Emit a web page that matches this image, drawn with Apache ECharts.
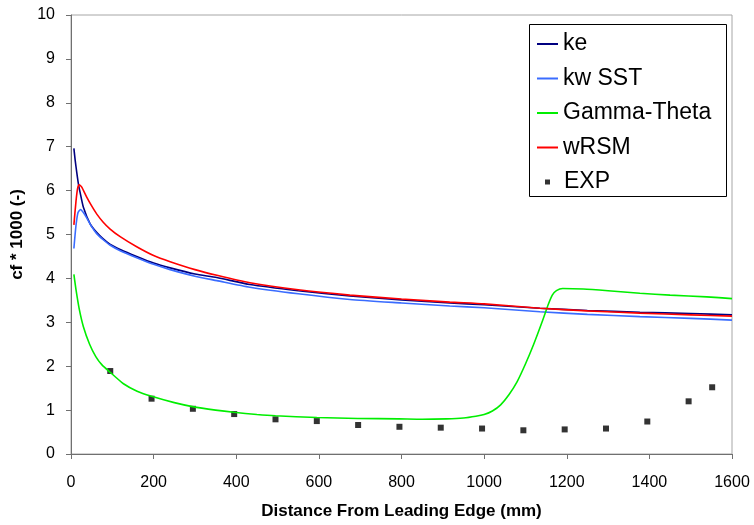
<!DOCTYPE html>
<html>
<head>
<meta charset="utf-8">
<script src="https://cdn.jsdelivr.net/npm/echarts@6/dist/echarts.min.js"></script>
<style>
  html, body { margin: 0; padding: 0; background: #fff; }
  #chart { width: 754px; height: 525px; }
</style>
</head>
<body>
<div id="chart"></div>
<script>
// 数据
var keX = [7, 10, 14, 18, 22, 30, 46, 62, 78, 94, 119, 159, 200, 240, 300, 353, 433, 550, 675, 800, 917, 1000, 1135, 1250, 1377, 1500, 1600];
var keY = [6.96, 6.70, 6.41, 6.15, 5.96, 5.62, 5.25, 5.05, 4.90, 4.78, 4.66, 4.50, 4.35, 4.24, 4.10, 4.02, 3.86, 3.72, 3.60, 3.51, 3.44, 3.40, 3.32, 3.27, 3.23, 3.20, 3.17];

var sstX = [7, 12, 17, 23, 30, 38, 50, 62, 78, 94, 119, 159, 200, 240, 300, 353, 433, 550, 675, 800, 917, 1000, 1135, 1250, 1377, 1500, 1600];
var sstY = [4.68, 5.20, 5.50, 5.57, 5.50, 5.38, 5.18, 5.02, 4.88, 4.76, 4.63, 4.47, 4.32, 4.20, 4.05, 3.95, 3.80, 3.65, 3.52, 3.44, 3.37, 3.33, 3.24, 3.18, 3.13, 3.09, 3.05];

var gtX = [7, 12, 20, 30, 45, 60, 75, 95, 127, 160, 193, 250, 294, 350, 394, 450, 495, 595, 694, 793, 850, 909, 950, 980, 1000, 1020, 1040, 1060, 1080, 1100, 1120, 1140, 1155, 1165, 1175, 1190, 1240, 1300, 1377, 1450, 1539, 1600];
var gtY = [4.09, 3.75, 3.30, 2.90, 2.50, 2.22, 2.03, 1.86, 1.60, 1.43, 1.32, 1.17, 1.08, 1.00, 0.95, 0.90, 0.87, 0.83, 0.81, 0.80, 0.79, 0.80, 0.82, 0.86, 0.90, 0.98, 1.12, 1.35, 1.65, 2.05, 2.50, 3.00, 3.40, 3.62, 3.72, 3.77, 3.76, 3.72, 3.66, 3.62, 3.58, 3.54];

var rsmX = [7, 12, 16, 20, 26, 38, 50, 62, 78, 94, 119, 159, 200, 240, 300, 353, 433, 550, 675, 800, 917, 1000, 1135, 1250, 1377, 1500, 1600];
var rsmY = [5.22, 5.75, 6.05, 6.13, 6.08, 5.85, 5.65, 5.47, 5.28, 5.13, 4.95, 4.72, 4.52, 4.38, 4.20, 4.07, 3.90, 3.74, 3.62, 3.53, 3.46, 3.42, 3.32, 3.26, 3.21, 3.17, 3.14];

var expX = [95, 195, 295, 395, 495, 595, 695, 795, 895, 995, 1095, 1195, 1295, 1395, 1495, 1552];
var expY = [1.89, 1.26, 1.03, 0.91, 0.79, 0.75, 0.66, 0.62, 0.60, 0.58, 0.54, 0.56, 0.58, 0.74, 1.20, 1.52];

var xTicks = [0, 200, 400, 600, 800, 1000, 1200, 1400, 1600];
var yTicks = [0, 1, 2, 3, 4, 5, 6, 7, 8, 9, 10];

function pairs(xs, ys) {
  var out = [];
  for (var i = 0; i < xs.length; i++) {
    out.push([xs[i], ys[i]]);
  }
  return out;
}

var font = 'Arial, "Liberation Sans", sans-serif';
var chart = echarts.init(document.getElementById('chart'), null, { renderer: 'canvas' });

function lineSeries(name, xs, ys, color) {
  return {
    name: name,
    type: 'line',
    data: pairs(xs, ys),
    symbol: 'none',
    smooth: 0.2,
    lineStyle: { color: color, width: 1.6 },
    itemStyle: { color: color },
    animation: false
  };
}

var option = {
  backgroundColor: '#fff',
  animation: false,
  grid: {
    left: 71, right: 22, top: 15, bottom: 68,
    show: true, borderColor: '#a6a6a6', borderWidth: 1
  },
  legend: [{
    // 线条图例，图标用细长方块代替
    data: ['ke', 'kw SST', 'Gamma-Theta', 'wRSM'],
    orient: 'vertical',
    left: 537, top: 32,
    padding: 0,
    icon: 'rect',
    itemWidth: 21, itemHeight: 2,
    itemGap: 10.5,
    textStyle: { fontFamily: font, fontSize: 23, color: '#000', lineHeight: 24 },
    selectedMode: false
  }, {
    // EXP 图例（小方块）
    data: [{ name: 'EXP', icon: 'rect' }],
    orient: 'vertical',
    left: 545, top: 170,
    padding: 0,
    itemWidth: 5, itemHeight: 5,
    textStyle: { fontFamily: font, fontSize: 23, color: '#000', lineHeight: 24, padding: [0, 0, 0, 9] },
    selectedMode: false
  }],
  graphic: [{
    type: 'rect',
    shape: { x: 529.5, y: 24.5, width: 197, height: 172 },
    style: { fill: 'none', stroke: '#000', lineWidth: 1 },
    z: 10
  }],
  xAxis: {
    type: 'value',
    min: xTicks[0], max: xTicks[xTicks.length - 1], interval: 200,
    name: 'Distance From Leading Edge (mm)',
    nameLocation: 'middle',
    nameGap: 49,
    nameTextStyle: { fontFamily: font, fontSize: 17, fontWeight: 'bold', color: '#000' },
    axisLine: { lineStyle: { color: '#707070', width: 1 } },
    axisTick: { show: true, inside: false, length: 5, lineStyle: { color: '#707070' } },
    axisLabel: {
      fontFamily: font, fontSize: 16, color: '#000', margin: 21,
      formatter: function (v) { return String(v); }
    },
    splitLine: { show: false }
  },
  yAxis: {
    type: 'value',
    min: yTicks[0], max: yTicks[yTicks.length - 1], interval: 1,
    name: 'cf * 1000 (-)',
    nameLocation: 'middle',
    nameGap: 36,
    nameTextStyle: { fontFamily: font, fontSize: 17, fontWeight: 'bold', color: '#000' },
    axisLine: { show: true, lineStyle: { color: '#707070', width: 1 } },
    axisTick: { show: true, inside: false, length: 5, lineStyle: { color: '#707070' } },
    axisLabel: { fontFamily: font, fontSize: 16, color: '#000', margin: 16 },
    splitLine: { show: false }
  },
  series: [
    lineSeries('ke', keX, keY, '#000080'),
    lineSeries('kw SST', sstX, sstY, '#3a6cff'),
    lineSeries('Gamma-Theta', gtX, gtY, '#00ee00'),
    lineSeries('wRSM', rsmX, rsmY, '#ff0000'),
    {
      name: 'EXP',
      type: 'scatter',
      data: pairs(expX, expY),
      symbol: 'rect',
      symbolSize: 6,
      itemStyle: { color: '#000' },
      animation: false
    }
  ]
};

chart.setOption(option);
</script>
</body>
</html>
